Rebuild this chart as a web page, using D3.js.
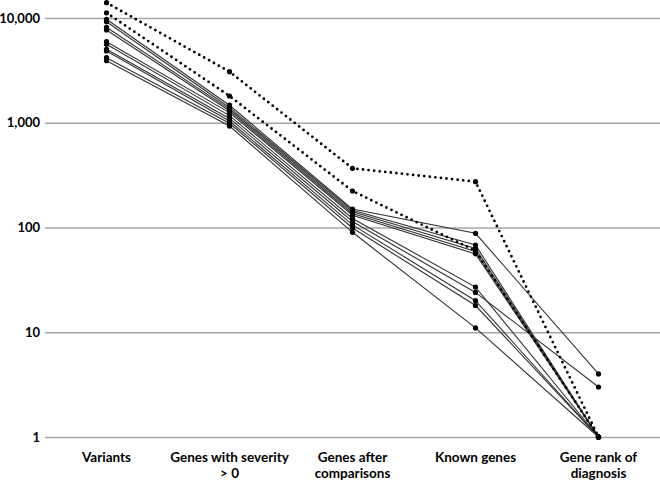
<!DOCTYPE html>
<html>
<head>
<meta charset="utf-8">
<script src="https://cdn.jsdelivr.net/npm/d3@7"></script>
<style>
  html, body { margin: 0; padding: 0; background: #fff; }
  svg text { font-family: Lato, "Open Sans", sans-serif; font-weight: 700; fill: #000; }
</style>
</head>
<body>
<svg id="chart" width="660" height="481"></svg>
<script>
const categories = ["Variants", "Genes with severity > 0", "Genes after comparisons", "Known genes", "Gene rank of diagnosis"];
const categoryLines = [["Variants"], ["Genes with severity", "> 0"], ["Genes after", "comparisons"], ["Known genes"], ["Gene rank of", "diagnosis"]];
const yTicks = [1, 10, 100, 1000, 10000];

// dotted series
const dotted1 = [14000, 3070, 367, 274, 1];
const dotted2 = [11200, 1800, 223, 60, 1];
// solid series
const solid1  = [9720, 1470, 150, 88, 4];
const solid2  = [9220, 1400, 146, 68, 1];
const solid3  = [8150, 1350, 141, 63, 1];
const solid4  = [7680, 1300, 136, 59, 1];
const solid5  = [5940, 1250, 131, 56, 1];
const solid6  = [5610, 1170, 122, 27, 1];
const solid7  = [5030, 1100, 114, 24, 3];
const solid8  = [4840, 1040, 106, 20, 1];
const solid9  = [4180, 990, 99, 18, 1];
const solid10 = [3910, 930, 90, 11, 1];

const solidSeries = [solid1, solid2, solid3, solid4, solid5, solid6, solid7, solid8, solid9, solid10];
const dottedSeries = [dotted1, dotted2];

const svg = d3.select("#chart");
const mLeft = 45, mRight = 660, mTop = 18, mBottom = 437;

const x = d3.scaleBand().domain(categories).range([mLeft, mRight]).padding(0);
const cx = c => x(c) + x.bandwidth() / 2;
const y = d3.scaleLog().domain([1, 10000]).range([mBottom, mTop]);

// gridlines + tick labels
const yAxis = d3.axisLeft(y).tickValues(yTicks).tickFormat(d3.format(",")).tickSize(-(mRight - mLeft)).tickPadding(5);
const gAxis = svg.append("g").attr("transform", `translate(${mLeft},0)`).call(yAxis);
gAxis.select(".domain").remove();
gAxis.selectAll(".tick line").attr("stroke", "#a6a6a6").attr("stroke-width", 1.3);
gAxis.selectAll(".tick text").attr("font-size", 13).attr("font-family", "Lato, 'Open Sans', sans-serif").attr("font-weight", 700).attr("fill", "#000");

// category labels
const gX = svg.append("g");
categories.forEach((c, i) => {
  const t = gX.append("text").attr("x", cx(c)).attr("y", 462).attr("text-anchor", "middle").attr("font-size", 13.5);
  categoryLines[i].forEach((ln, j) => {
    t.append("tspan").attr("x", cx(c)).attr("dy", j === 0 ? 0 : 16).text(ln);
  });
});

const line = d3.line().x((d, i) => cx(categories[i])).y(d => y(d));

svg.append("g").selectAll("path").data(solidSeries).join("path")
  .attr("d", line).attr("fill", "none").attr("stroke", "#333").attr("stroke-width", 1.1);

svg.append("g").selectAll("path").data(dottedSeries).join("path")
  .attr("d", line).attr("fill", "none").attr("stroke", "#000").attr("stroke-width", 2.8)
  .attr("stroke-linecap", "round").attr("stroke-dasharray", "0 5.6");

const allSeries = solidSeries.concat(dottedSeries);
const gm = svg.append("g");
allSeries.forEach(s => {
  gm.append("g").selectAll("circle").data(s).join("circle")
    .attr("cx", (d, i) => cx(categories[i])).attr("cy", d => y(d)).attr("r", 2.6).attr("fill", "#000");
});
</script>
</body>
</html>
